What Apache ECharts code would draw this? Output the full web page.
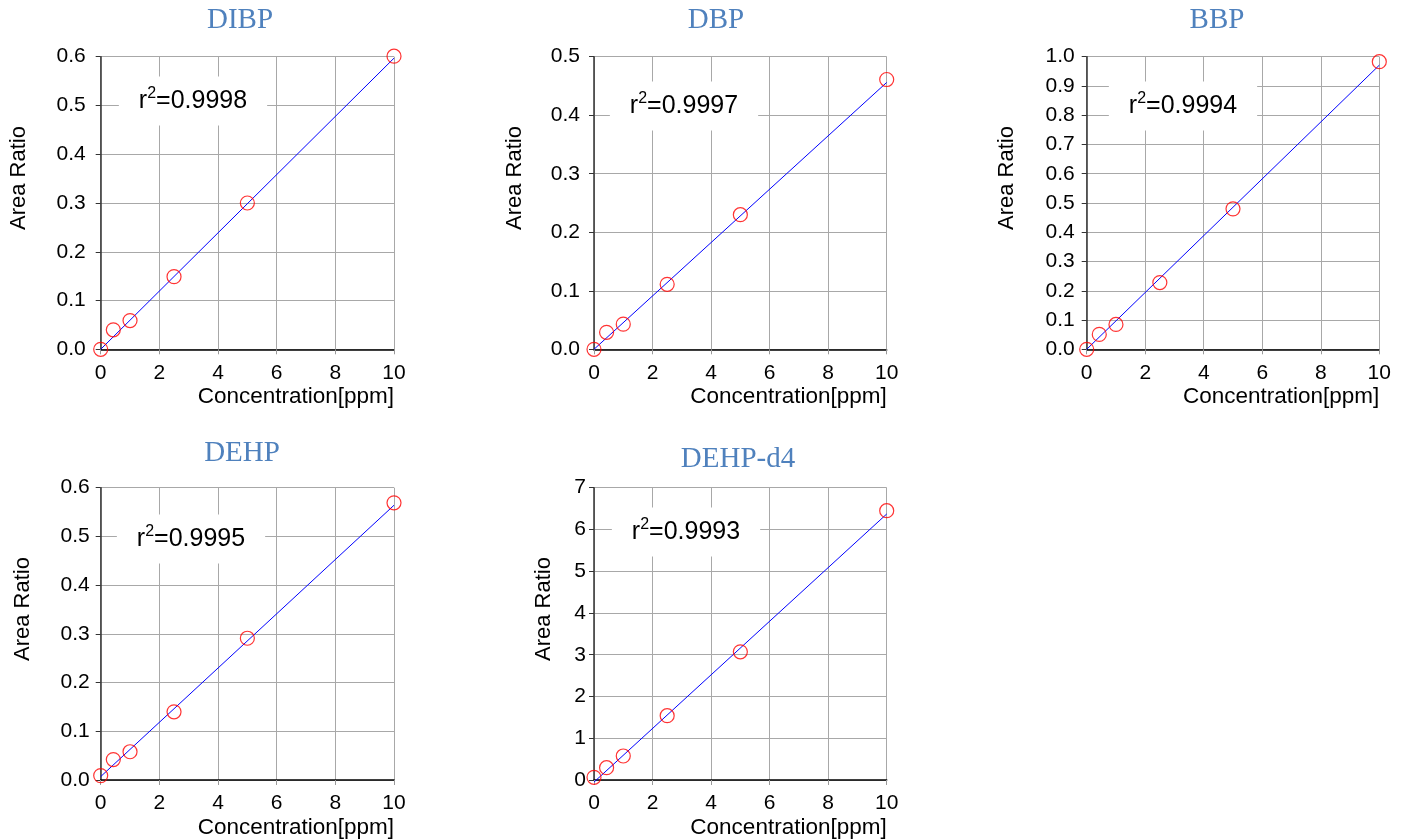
<!DOCTYPE html>
<html><head><meta charset="utf-8">
<script src="https://cdn.jsdelivr.net/npm/echarts@6/dist/echarts.min.js"></script>
<style>html,body{margin:0;padding:0;background:#fff}#c{width:1412px;height:839px}</style>
</head><body><div id="c"></div>
<script>
// ---- data ----
const concentration = [0, 0.43, 1, 2.5, 5, 10];
const dibp   = [0.0, 0.040, 0.059, 0.149, 0.300, 0.601];
const dbp    = [0.0, 0.029, 0.043, 0.111, 0.230, 0.461];
const bbp    = [0.0, 0.051, 0.085, 0.228, 0.480, 0.983];
const dehp   = [0.009, 0.042, 0.058, 0.140, 0.291, 0.569];
const dehpD4 = [0.065, 0.295, 0.575, 1.54, 3.07, 6.45];
// fitted calibration line read at x=0 and x=10
const fitX = [0, 10];
const fitDibp   = [0.0, 0.597];
const fitDbp    = [0.0, 0.456];
const fitBbp    = [0.0, 0.971];
const fitDehp   = [0.007, 0.564];
const fitDehpD4 = [-0.05, 6.37];
const compoundNames = ['DIBP', 'DBP', 'BBP', 'DEHP', 'DEHP-d4'];
const r2Values = ['0.9998', '0.9997', '0.9994', '0.9995', '0.9993'];
const yMaxes = [0.6, 0.5, 1.0, 0.6, 7];
const ySteps = [0.1, 0.1, 0.1, 0.1, 1];
const yDecimals = [1, 1, 1, 1, 0];
const xMax = 10, xStep = 2;
const xName = 'Concentration[ppm]';
const yName = 'Area Ratio';

const seriesData = [dibp, dbp, bbp, dehp, dehpD4];
const fitData = [fitDibp, fitDbp, fitBbp, fitDehp, fitDehpD4];

// ---- layout ----
const plots = [
  {l: 100.7, t: 56.7, w: 293.3, h: 292.6, lm: 15, title: [240, 20], yn: [18.5, 178], r2: [193, 101]},
  {l: 594,   t: 56.7, w: 292.7, h: 292.6, lm: 14, title: [716, 20], yn: [514.5, 178], r2: [684, 106]},
  {l: 1086.7,t: 56.7, w: 292.6, h: 292.6, lm: 12, title: [1217, 20], yn: [1006.7, 178], r2: [1183, 106]},
  {l: 100.7, t: 487.7,w: 293.3, h: 292.3, lm: 11, title: [242, 453], yn: [23.3, 609], r2: [191, 539]},
  {l: 594,   t: 487.7,w: 292.7, h: 292.3, lm: 8,  title: [738, 459], yn: [543.5, 609], r2: [686, 532]}
];

const FONT = '"Liberation Sans", Arial, sans-serif';
const grids = [], xAxes = [], yAxes = [], series = [], graphics = [];

plots.forEach((p, i) => {
  grids.push({left: p.l, top: p.t, width: p.w, height: p.h, containLabel: false, outerBoundsMode: 'none'});
  xAxes.push({
    type: 'value', gridIndex: i, min: 0, max: xMax, interval: xStep,
    axisLine: {show: true, onZero: false, lineStyle: {color: '#000', width: 1.5}},
    axisTick: {show: true, length: 5, lineStyle: {color: '#999'}},
    axisLabel: {color: '#000', fontSize: 21, fontFamily: FONT, margin: 13},
    splitLine: {show: true, lineStyle: {color: '#a8a8a8', width: 1}},
    name: xName, nameLocation: 'end', nameGap: 0, nameMoveOverlap: false,
    nameTextStyle: {color: '#000', fontSize: 22.5, fontFamily: FONT, align: 'right', verticalAlign: 'top', padding: [36, 0, 0, 0]}
  });
  const dec = yDecimals[i];
  yAxes.push({
    type: 'value', gridIndex: i, min: 0, max: yMaxes[i], interval: ySteps[i],
    axisLine: {show: true, onZero: false, lineStyle: {color: '#333', width: 1.5}},
    axisTick: {show: true, length: 5, lineStyle: {color: '#333'}},
    axisLabel: {color: '#000', fontSize: 21, fontFamily: FONT, margin: p.lm, formatter: v => v.toFixed(dec)},
    splitLine: {show: true, lineStyle: {color: '#a8a8a8', width: 1}}
  });
  series.push({
    type: 'line', xAxisIndex: i, yAxisIndex: i, clip: false, symbol: 'none', silent: true,
    lineStyle: {color: '#0000ff', width: 1}, z: 3,
    data: fitX.map((x, k) => [x, fitData[i][k]])
  });
  series.push({
    type: 'scatter', xAxisIndex: i, yAxisIndex: i, clip: false, symbol: 'circle', symbolSize: 14,
    itemStyle: {color: 'rgba(0,0,0,0)', borderColor: '#ff0000', borderWidth: 1.2}, z: 4,
    data: concentration.map((x, k) => [x, seriesData[i][k]])
  });
  graphics.push({
    type: 'text', x: p.title[0], y: p.title[1], z: 100,
    style: {text: compoundNames[i], font: '29px "Liberation Serif", "Times New Roman", serif', fill: '#4F81BD', align: 'center', verticalAlign: 'middle'}
  });
  graphics.push({
    type: 'text', x: p.yn[0], y: p.yn[1], rotation: Math.PI / 2, z: 100,
    style: {text: yName, font: '22px ' + FONT, fill: '#000', align: 'center', verticalAlign: 'middle'}
  });
  graphics.push({
    type: 'text', x: p.r2[0], y: p.r2[1], z: 100,
    style: {
      text: '{n|r}{s|2}{n|=' + r2Values[i] + '}',
      align: 'center', verticalAlign: 'middle', backgroundColor: '#fff', padding: [11, 20, 11, 20],
      rich: {
        n: {fontSize: 25, fontFamily: FONT, fill: '#000', lineHeight: 27},
        s: {fontSize: 16, fontFamily: FONT, fill: '#000', lineHeight: 27, padding: [0, 0, 14, 0]}
      }
    }
  });
});

const chart = echarts.init(document.getElementById('c'), null, {renderer: 'canvas'});
chart.setOption({
  animation: false,
  backgroundColor: '#fff',
  grid: grids, xAxis: xAxes, yAxis: yAxes, series: series, graphic: graphics
});
</script>
</body></html>
